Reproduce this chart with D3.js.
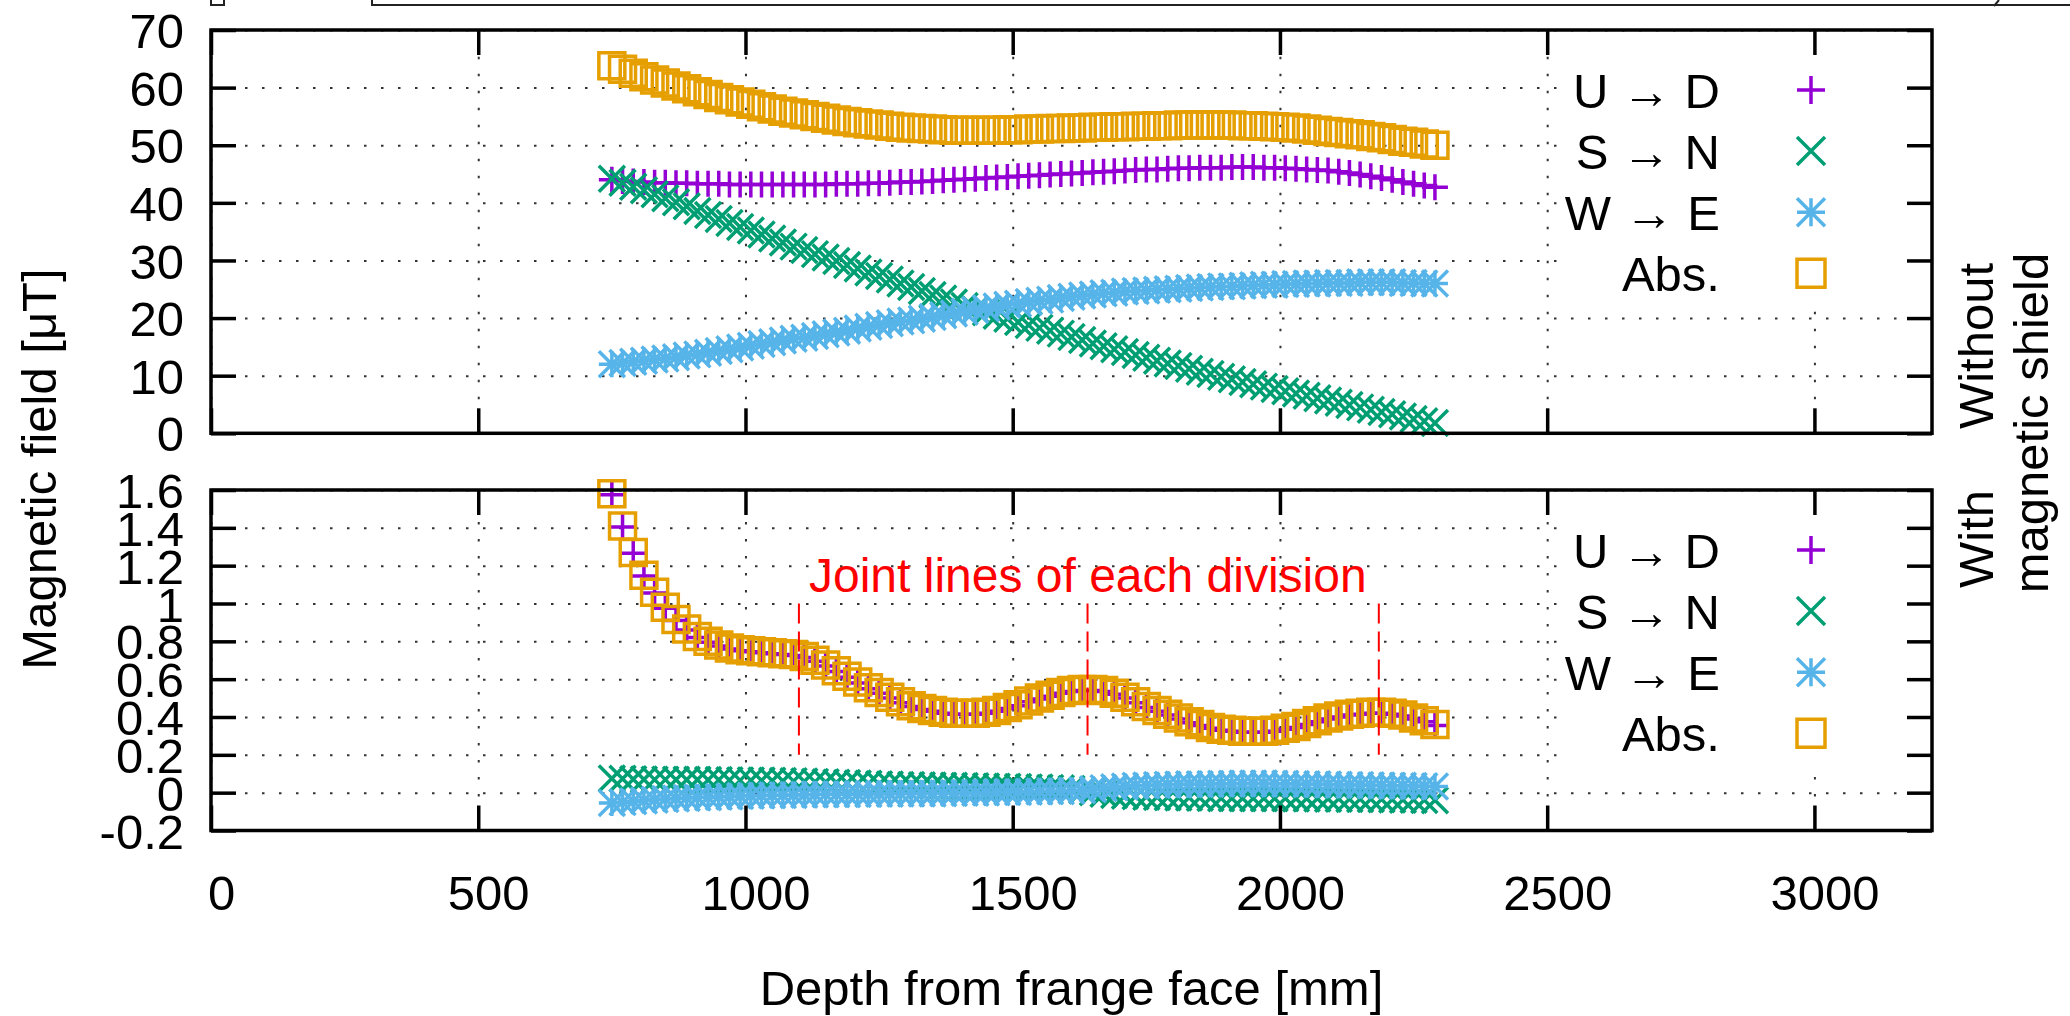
<!DOCTYPE html>
<html>
<head>
<meta charset="utf-8">
<script src="https://cdn.jsdelivr.net/npm/d3@7"></script>
<style>
  body { margin: 0; background: #fff; }
  svg { display: block; font-family: "Liberation Sans", Arial, sans-serif; }
  .grid line { stroke: #333; stroke-width: 2; stroke-dasharray: 2.5 14.5; }
  .grid path { display: none; }
  .tick-axis path { display: none; }
  .tick-axis line { stroke: #000; stroke-width: 3.5; }
  .tick-axis text { font-size: 49px; fill: #000; }
</style>
</head>
<body>
<div id="chart"></div>
<script>
// depth from frange face [mm]
const depth = [
  750, 770, 790, 810, 830, 850, 870, 890, 910, 930,
  950, 970, 990, 1010, 1030, 1050, 1070, 1090, 1110, 1130,
  1150, 1170, 1190, 1210, 1230, 1250, 1270, 1290, 1310, 1330,
  1350, 1370, 1390, 1410, 1430, 1450, 1470, 1490, 1510, 1530,
  1550, 1570, 1590, 1610, 1630, 1650, 1670, 1690, 1710, 1730,
  1750, 1770, 1790, 1810, 1830, 1850, 1870, 1890, 1910, 1930,
  1950, 1970, 1990, 2010, 2030, 2050, 2070, 2090, 2110, 2130,
  2150, 2170, 2190, 2210, 2230, 2250, 2270, 2290
];

// without magnetic shield [uT]
const topUD = [
  44.0, 43.8, 43.7, 43.6, 43.5, 43.5, 43.4, 43.4, 43.3, 43.3,
  43.3, 43.2, 43.2, 43.2, 43.2, 43.2, 43.2, 43.2, 43.2, 43.2,
  43.2, 43.3, 43.3, 43.3, 43.4, 43.4, 43.5, 43.6, 43.6, 43.7,
  43.8, 43.9, 44.0, 44.1, 44.2, 44.3, 44.4, 44.5, 44.6, 44.7,
  44.8, 44.9, 45.0, 45.1, 45.2, 45.3, 45.4, 45.5, 45.6, 45.7,
  45.8, 45.8, 45.9, 46.0, 46.0, 46.1, 46.1, 46.1, 46.2, 46.2,
  46.2, 46.1, 46.1, 46.0, 45.9, 45.8, 45.7, 45.6, 45.4, 45.2,
  44.9, 44.6, 44.3, 44.0, 43.6, 43.3, 43.0, 42.7
];
const topSN = [
  44.2, 43.5, 42.8, 42.2, 41.5, 40.8, 40.1, 39.4, 38.6, 37.9,
  37.2, 36.5, 35.8, 35.2, 34.5, 33.8, 33.1, 32.4, 31.8, 31.1,
  30.5, 29.9, 29.2, 28.6, 27.9, 27.3, 26.7, 26.0, 25.4, 24.7,
  24.0, 23.4, 22.7, 22.1, 21.5, 21.0, 20.4, 19.9, 19.3, 18.8,
  18.3, 17.8, 17.3, 16.7, 16.2, 15.6, 15.1, 14.6, 14.1, 13.6,
  13.1, 12.6, 12.1, 11.7, 11.2, 10.7, 10.3, 9.8, 9.4, 8.9,
  8.5, 8.1, 7.7, 7.3, 6.9, 6.5, 6.1, 5.7, 5.3, 4.9,
  4.5, 4.1, 3.7, 3.3, 2.9, 2.5, 2.1, 1.8
];
const topWE = [
  12.0, 12.2, 12.4, 12.6, 12.8, 13.0, 13.2, 13.5, 13.7, 14.0,
  14.3, 14.6, 14.9, 15.2, 15.5, 15.8, 16.1, 16.4, 16.6, 16.9,
  17.2, 17.5, 17.8, 18.2, 18.5, 18.8, 19.1, 19.4, 19.6, 19.9,
  20.2, 20.5, 20.8, 21.1, 21.4, 21.7, 22.0, 22.3, 22.5, 22.8,
  23.0, 23.2, 23.5, 23.7, 23.9, 24.1, 24.3, 24.4, 24.6, 24.7,
  24.8, 24.9, 25.0, 25.1, 25.2, 25.3, 25.4, 25.5, 25.5, 25.6,
  25.7, 25.8, 25.8, 25.9, 25.9, 26.0, 26.0, 26.1, 26.1, 26.1,
  26.2, 26.2, 26.2, 26.2, 26.1, 26.1, 26.0, 26.0
];
const topAbs = [
  63.8, 63.2, 62.5, 61.9, 61.3, 60.8, 60.3, 59.8, 59.3, 58.8,
  58.3, 57.9, 57.5, 57.1, 56.7, 56.3, 55.9, 55.6, 55.3, 55.0,
  54.7, 54.4, 54.1, 53.9, 53.7, 53.5, 53.3, 53.1, 53.0, 52.9,
  52.8, 52.7, 52.6, 52.6, 52.6, 52.6, 52.6, 52.7, 52.7, 52.8,
  52.8, 52.9, 52.9, 53.0, 53.0, 53.1, 53.1, 53.2, 53.2, 53.3,
  53.3, 53.4, 53.4, 53.5, 53.5, 53.5, 53.5, 53.5, 53.5, 53.4,
  53.4, 53.3, 53.2, 53.1, 53.0, 52.8, 52.6, 52.4, 52.2, 52.0,
  51.8, 51.5, 51.3, 51.0, 50.7, 50.5, 50.2, 50.0
];

// with magnetic shield [uT]
const botUD = [
  1.575, 1.405, 1.265, 1.145, 1.055, 0.975, 0.91, 0.86, 0.82, 0.795,
  0.775, 0.76, 0.75, 0.745, 0.74, 0.735, 0.73, 0.725, 0.715, 0.695,
  0.67, 0.64, 0.61, 0.58, 0.55, 0.525, 0.50, 0.475, 0.455, 0.44,
  0.43, 0.42, 0.415, 0.415, 0.415, 0.42, 0.43, 0.445, 0.46, 0.48,
  0.495, 0.51, 0.525, 0.535, 0.54, 0.54, 0.535, 0.52, 0.50, 0.475,
  0.45, 0.43, 0.41, 0.39, 0.37, 0.355, 0.34, 0.33, 0.325, 0.32,
  0.32, 0.32, 0.325, 0.335, 0.345, 0.36, 0.375, 0.39, 0.40, 0.41,
  0.415, 0.42, 0.42, 0.415, 0.405, 0.39, 0.375, 0.355
];
const botSN = [
  0.075, 0.073, 0.071, 0.070, 0.069, 0.069, 0.068, 0.068, 0.068, 0.067,
  0.067, 0.066, 0.065, 0.065, 0.064, 0.063, 0.062, 0.061, 0.059, 0.057,
  0.055, 0.053, 0.051, 0.049, 0.047, 0.045, 0.043, 0.041, 0.040, 0.039,
  0.038, 0.037, 0.036, 0.035, 0.034, 0.033, 0.032, 0.031, 0.030, 0.028,
  0.027, 0.025, 0.023, 0.020, 0.012, 0.002, -0.006, -0.012, -0.016, -0.019,
  -0.021, -0.023, -0.024, -0.025, -0.026, -0.027, -0.028, -0.029, -0.029, -0.030,
  -0.030, -0.030, -0.030, -0.030, -0.031, -0.031, -0.031, -0.032, -0.032, -0.033,
  -0.033, -0.034, -0.035, -0.036, -0.037, -0.038, -0.039, -0.040
];
const botWE = [
  -0.055, -0.050, -0.045, -0.041, -0.037, -0.034, -0.031, -0.028, -0.026, -0.024,
  -0.022, -0.020, -0.018, -0.016, -0.015, -0.014, -0.013, -0.012, -0.011, -0.010,
  -0.009, -0.008, -0.008, -0.007, -0.007, -0.006, -0.006, -0.005, -0.005, -0.004,
  -0.004, -0.003, -0.002, -0.001, 0.000, 0.001, 0.002, 0.003, 0.004, 0.005,
  0.006, 0.007, 0.008, 0.010, 0.013, 0.018, 0.024, 0.029, 0.033, 0.036,
  0.038, 0.040, 0.042, 0.043, 0.044, 0.045, 0.046, 0.047, 0.047, 0.048,
  0.048, 0.048, 0.047, 0.047, 0.046, 0.045, 0.044, 0.043, 0.042, 0.041,
  0.040, 0.039, 0.038, 0.037, 0.036, 0.035, 0.034, 0.033
];
const botAbs = [
  1.58, 1.41, 1.27, 1.15, 1.06, 0.98, 0.915, 0.865, 0.825, 0.80,
  0.78, 0.765, 0.755, 0.75, 0.745, 0.74, 0.735, 0.73, 0.72, 0.70,
  0.675, 0.645, 0.615, 0.585, 0.555, 0.53, 0.505, 0.48, 0.46, 0.445,
  0.435, 0.425, 0.42, 0.42, 0.42, 0.425, 0.435, 0.45, 0.465, 0.485,
  0.50, 0.515, 0.53, 0.54, 0.545, 0.545, 0.54, 0.525, 0.505, 0.48,
  0.455, 0.435, 0.415, 0.395, 0.375, 0.36, 0.345, 0.335, 0.33, 0.325,
  0.325, 0.325, 0.33, 0.34, 0.35, 0.365, 0.38, 0.395, 0.405, 0.415,
  0.42, 0.425, 0.425, 0.42, 0.41, 0.395, 0.38, 0.36
];

const seriesNames = ["U \u2192 D", "S \u2192 N", "W \u2192 E", "Abs."];
const xTicks = [0, 500, 1000, 1500, 2000, 2500, 3000];
const topYTicks = [0, 10, 20, 30, 40, 50, 60, 70];
const botYTicks = [-0.2, 0, 0.2, 0.4, 0.6, 0.8, 1, 1.2, 1.4, 1.6];
const jointDepths = [1100, 1640, 2185];
const jointRange = [0.2, 1.0];

/**
 * Layout
 */
const width = 2070;
const height = 1016;
const plotLeft = 211;
const plotRight = 1932;
const tickLen = 25;
const colors = ["#9400d3", "#009e73", "#56b4e9", "#e69f00"];
const shapes = ["plus", "cross", "star", "box"];
const markSize = 13;

const svg = d3.select("#chart").append("svg")
  .attr("width", width)
  .attr("height", height);

svg.append("rect").attr("width", width).attr("height", height).attr("fill", "#fff");

const x = d3.scaleLinear().domain([0, 3220]).range([plotLeft, plotRight]);

function markerPath(shape, s) {
  const plus = `M${-s},0H${s}M0,${-s}V${s}`;
  const cross = `M${-s},${-s}L${s},${s}M${-s},${s}L${s},${-s}`;
  if (shape === "plus") return plus;
  if (shape === "cross") return cross;
  if (shape === "star") return plus + cross;
  return `M${-s},${-s}H${s}V${s}H${-s}Z`;
}

function panel(cfg) {
  const y = d3.scaleLinear().domain(cfg.domain).range([cfg.bottom, cfg.top]);
  const h = cfg.bottom - cfg.top;
  const w = plotRight - plotLeft;
  const g = svg.append("g");

  // grid
  g.append("g").attr("class", "grid")
    .attr("transform", `translate(${plotLeft},0)`)
    .call(d3.axisLeft(y).tickValues(cfg.yTicks).tickSize(-w).tickFormat(""));
  g.append("g").attr("class", "grid")
    .attr("transform", `translate(0,${cfg.bottom})`)
    .call(d3.axisBottom(x).tickValues(xTicks).tickSize(-h).tickFormat(""));

  // series, drawn in key order
  const series = cfg.values.map((vals, i) => ({ name: seriesNames[i], vals: vals, i: i }));
  series.forEach(s => {
    g.append("g")
      .selectAll("path")
      .data(s.vals)
      .join("path")
      .attr("transform", (d, j) => `translate(${x(depth[j])},${y(d)})`)
      .attr("d", markerPath(shapes[s.i], markSize))
      .attr("fill", "none")
      .attr("stroke", colors[s.i])
      .attr("stroke-width", 3.5);
  });

  if (cfg.joints) {
    g.append("g").selectAll("line")
      .data(jointDepths)
      .join("line")
      .attr("x1", d => x(d)).attr("x2", d => x(d))
      .attr("y1", y(jointRange[1])).attr("y2", y(jointRange[0]))
      .attr("stroke", "#ff0000")
      .attr("stroke-width", 2)
      .attr("stroke-dasharray", "20 8");
    g.append("text")
      .attr("x", 809).attr("y", 592)
      .attr("fill", "#ff0000")
      .style("font-size", "48px")
      .text("Joint lines of each division");
  }

  // opaque key box
  g.append("rect")
    .attr("x", 1571).attr("y", cfg.top + 5)
    .attr("width", 354).attr("height", 271)
    .attr("fill", "#fff");

  // tics, mirrored on all sides
  g.append("g").attr("class", "tick-axis")
    .attr("transform", `translate(${plotLeft},0)`)
    .call(d3.axisLeft(y).tickValues(cfg.yTicks).tickSize(-tickLen).tickPadding(27)
      .tickFormat(d => String(+d.toFixed(1))))
    .selectAll("text").attr("dy", "0.36em");
  g.append("g").attr("class", "tick-axis")
    .attr("transform", `translate(${plotRight},0)`)
    .call(d3.axisRight(y).tickValues(cfg.yTicks).tickSize(-tickLen).tickFormat(""));
  g.append("g").attr("class", "tick-axis")
    .attr("transform", `translate(0,${cfg.top})`)
    .call(d3.axisTop(x).tickValues(xTicks).tickSize(-tickLen).tickFormat(""));
  const bottomAxis = g.append("g").attr("class", "tick-axis")
    .attr("transform", `translate(0,${cfg.bottom})`)
    .call(d3.axisBottom(x).tickValues(xTicks).tickSize(-tickLen)
      .tickFormat(cfg.xLabels ? d => String(d) : ""));
  if (cfg.xLabels) {
    bottomAxis.selectAll("text").attr("dx", 10).attr("y", 44).attr("dy", 0)
      .attr("dominant-baseline", "hanging");
  }

  // border
  g.append("rect")
    .attr("x", plotLeft).attr("y", cfg.top)
    .attr("width", w).attr("height", h)
    .attr("fill", "none")
    .attr("stroke", "#000")
    .attr("stroke-width", 3.5);

  // key
  const key = g.append("g").selectAll("g")
    .data(series)
    .join("g")
    .attr("transform", d => `translate(0,${cfg.top + 60 + d.i * 61.1})`);
  key.append("text")
    .attr("x", 1720).attr("dy", "0.36em")
    .attr("text-anchor", "end")
    .style("font-size", "49px")
    .text(d => d.name);
  key.append("path")
    .attr("transform", "translate(1811,0)")
    .attr("d", d => markerPath(shapes[d.i], 14))
    .attr("fill", "none")
    .attr("stroke", d => colors[d.i])
    .attr("stroke-width", 3.5);
}

panel({ top: 30, bottom: 433.3, domain: [0, 70], yTicks: topYTicks,
  values: [topUD, topSN, topWE, topAbs], xLabels: false, joints: false });
panel({ top: 490, bottom: 830.5, domain: [-0.2, 1.6], yTicks: botYTicks,
  values: [botUD, botSN, botWE, botAbs], xLabels: true, joints: true });

// axis titles
svg.append("text")
  .attr("transform", "translate(56,469) rotate(-90)")
  .attr("text-anchor", "middle")
  .style("font-size", "49px")
  .text("Magnetic field [\u03bcT]");
svg.append("text")
  .attr("x", (plotLeft + plotRight) / 2).attr("y", 1005)
  .attr("text-anchor", "middle")
  .style("font-size", "49px")
  .text("Depth from frange face [mm]");

// right-hand panel labels
[["Without", 1993, 346], ["With", 1993, 539], ["magnetic shield", 2048, 423]].forEach(t => {
  svg.append("text")
    .attr("transform", `translate(${t[1]},${t[2]}) rotate(-90)`)
    .attr("text-anchor", "middle")
    .style("font-size", "49px")
    .text(t[0]);
});

// cut-off frame remains at the very top
svg.append("path")
  .attr("d", "M211,0V5H224V0M372,0V5H2070M1994,6L1999,0")
  .attr("fill", "none")
  .attr("stroke", "#222")
  .attr("stroke-width", 2);
</script>
</body>
</html>
